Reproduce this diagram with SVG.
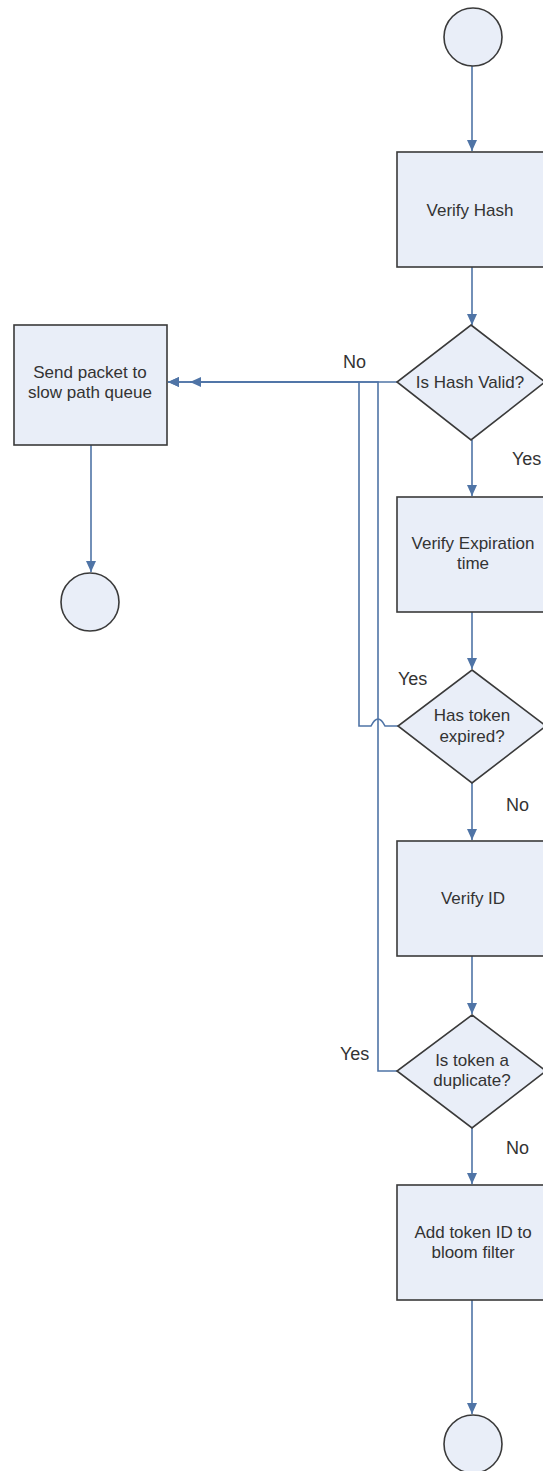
<svg xmlns="http://www.w3.org/2000/svg" width="543" height="1471" viewBox="0 0 543 1471">
<style>
.box{fill:#e9eef8;stroke:#3a3a3a;stroke-width:1.6}
.term{fill:#e9eef8;stroke:#3a3a3a;stroke-width:1.6}
.t{font-family:"Liberation Sans",Arial,sans-serif;font-size:17px;fill:#333333;text-anchor:middle}
.lbl{font-family:"Liberation Sans",Arial,sans-serif;font-size:18px;fill:#333333}
.c{fill:none;stroke:#4f74a6;stroke-width:1.6}
</style>
<defs>
<marker id="ah" markerUnits="userSpaceOnUse" markerWidth="12" markerHeight="10" refX="11" refY="5" orient="auto">
<path d="M0,0 L11,5 L0,10 z" fill="#4f74a6"/>
</marker>
</defs>
<rect width="543" height="1471" fill="#ffffff"/>
<g id="connectors">
<path class="c" d="M472,66 V151" marker-end="url(#ah)"/>
<path class="c" d="M472,267 V325" marker-end="url(#ah)"/>
<path class="c" d="M397,382 H168" marker-end="url(#ah)"/>
<path class="c" d="M397,1071 H378 V382 H168" marker-end="url(#ah)"/>
<path class="c" d="M398,726 H385 Q378,712 371,726 H359 V382 H190" marker-end="url(#ah)"/>
<path class="c" d="M472,440 V496" marker-end="url(#ah)"/>
<path class="c" d="M472,612 V669" marker-end="url(#ah)"/>
<path class="c" d="M472,783 V840" marker-end="url(#ah)"/>
<path class="c" d="M472,956 V1014" marker-end="url(#ah)"/>
<path class="c" d="M472,1128 V1184" marker-end="url(#ah)"/>
<path class="c" d="M472,1300 V1414" marker-end="url(#ah)"/>
<path class="c" d="M91,445 V572" marker-end="url(#ah)"/>
</g>
<g id="start"><circle class="term" cx="473" cy="37" r="29"/></g>
<g id="verify-hash"><rect class="box" x="397" y="152" width="153" height="115"/><text class="t" x="470" y="216">Verify Hash</text></g>
<g id="hash-valid"><polygon class="box" points="471,325 545,382 471,440 397,382"/><text class="t" x="470" y="388">Is Hash Valid?</text></g>
<g id="slow-path"><rect class="box" x="14" y="325" width="153" height="120"/><text class="t" x="90" y="378">Send packet to</text><text class="t" x="90" y="398">slow path queue</text></g>
<g id="end-slow"><circle class="term" cx="90" cy="602" r="29"/></g>
<g id="verify-exp"><rect class="box" x="397" y="497" width="153" height="115"/><text class="t" x="473" y="549">Verify Expiration</text><text class="t" x="473" y="569">time</text></g>
<g id="expired"><polygon class="box" points="472,670 546,726 472,783 398,726"/><text class="t" x="472" y="721">Has token</text><text class="t" x="472" y="742">expired?</text></g>
<g id="verify-id"><rect class="box" x="397" y="841" width="153" height="115"/><text class="t" x="473" y="904">Verify ID</text></g>
<g id="duplicate"><polygon class="box" points="472,1015 546,1071 472,1128 397,1071"/><text class="t" x="472" y="1066">Is token a</text><text class="t" x="472" y="1086">duplicate?</text></g>
<g id="bloom"><rect class="box" x="397" y="1185" width="153" height="115"/><text class="t" x="473" y="1238">Add token ID to</text><text class="t" x="473" y="1258">bloom filter</text></g>
<g id="end"><circle class="term" cx="473" cy="1444" r="29"/></g>
<g id="labels">
<text class="lbl" x="343" y="368">No</text>
<text class="lbl" x="512" y="465">Yes</text>
<text class="lbl" x="398" y="685">Yes</text>
<text class="lbl" x="506" y="811">No</text>
<text class="lbl" x="340" y="1060">Yes</text>
<text class="lbl" x="506" y="1154">No</text>
</g>
</svg>
